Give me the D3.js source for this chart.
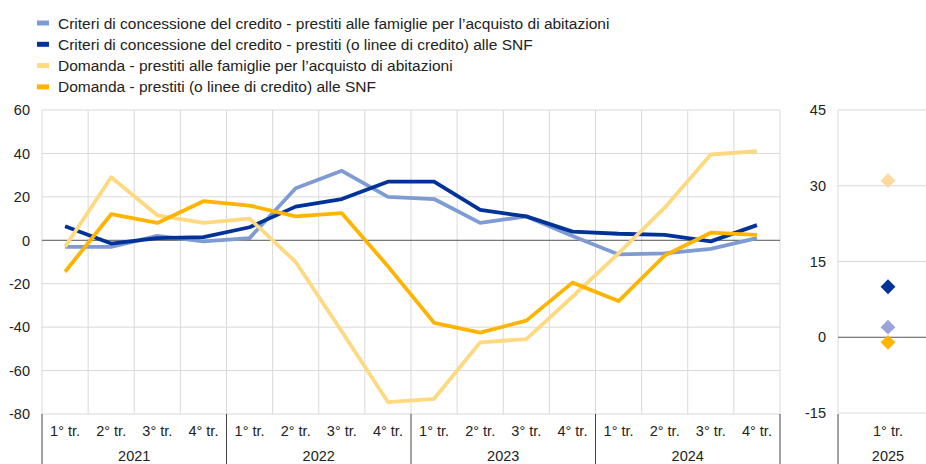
<!DOCTYPE html>
<html>
<head>
<meta charset="utf-8">
<script src="https://cdn.jsdelivr.net/npm/d3@7"></script>
<style>
  body { margin: 0; background: #fff; }
  svg { display: block; font-family: Arial, "Liberation Sans", sans-serif; }
</style>
</head>
<body>
<svg id="chart" width="926" height="464"></svg>
<script>
// data
var years = ['2021', '2022', '2023', '2024']
var quarterLabels = ['1° tr.', '2° tr.', '3° tr.', '4° tr.']
var seriesNames = [
  'Criteri di concessione del credito - prestiti alle famiglie per l\u2019acquisto di abitazioni',
  'Criteri di concessione del credito - prestiti (o linee di credito) alle SNF',
  'Domanda - prestiti alle famiglie per l\u2019acquisto di abitazioni',
  'Domanda - prestiti (o linee di credito) alle SNF'
]
var criteriFamiglie = [-3, -3, 2, -0.5, 1, 24, 32, 20, 19, 8, 11, 2, -6.5, -6, -4, 1]
var criteriSnf = [6.5, -1.5, 1, 1.5, 6, 15.5, 19, 27, 27, 14, 11, 4, 3, 2.5, -0.5, 7]
var domandaFamiglie = [-3, 29, 11.5, 8, 10, -10, -42, -74.5, -73, -47, -45.5, -26, -6, 15, 39.5, 41]
var domandaSnf = [-14.5, 12, 8, 18, 16, 11, 12.5, -12, -38, -42.5, -37, -19.5, -28, -7, 3.5, 2.5]
// expectations for next quarter
var nextLabel = '1° tr.'
var nextYear = '2025'
var nextValues = [2, 10, 31, -1]

var yTicks = [60, 40, 20, 0, -20, -40, -60, -80]
var y2Ticks = [45, 30, 15, 0, -15]

// styles
var lineColors = ['#7f9bd3', '#003299', '#ffd980', '#ffb400']
var dotColors = ['#99a4d8', '#003299', '#fdd9a2', '#ffb400']
var gridColor = '#d9d9d9'
var textColor = '#222'

var svg = d3.select('#chart')

var periods = []
years.forEach(function (y) {
  quarterLabels.forEach(function (q) { periods.push(y + ' ' + q) })
})

var x = d3.scaleBand().domain(periods).range([42, 780])
var y = d3.scaleLinear().domain([-80, 60]).range([414, 110])
var x2 = d3.scaleBand().domain([nextYear + ' ' + nextLabel]).range([838, 938])
var y2 = d3.scaleLinear().domain([-15, 45]).range([413, 110])

//
// left panel grid
//
var grid = svg.append('g')
grid.selectAll('line.h')
  .data(yTicks.filter(function (d) { return d !== 0 }))
  .enter().append('line')
  .attr('x1', 42).attr('x2', 780)
  .attr('y1', function (d) { return y(d) }).attr('y2', function (d) { return y(d) })
  .attr('stroke', gridColor)
var edges = periods.map(function (p) { return x(p) }).concat([780])
grid.selectAll('line.v')
  .data(edges)
  .enter().append('line')
  .attr('x1', function (d) { return d }).attr('x2', function (d) { return d })
  .attr('y1', y(60)).attr('y2', y(-80))
  .attr('stroke', gridColor)

svg.append('line')
  .attr('x1', 42).attr('x2', 780)
  .attr('y1', y(0)).attr('y2', y(0))
  .attr('stroke', '#555')

// y labels
svg.append('g').selectAll('text')
  .data(yTicks)
  .enter().append('text')
  .attr('x', 30)
  .attr('y', function (d) { return y(d) })
  .attr('dy', '0.36em')
  .attr('text-anchor', 'end')
  .attr('font-size', 14.5)
  .attr('fill', textColor)
  .text(function (d) { return d })

// x labels
svg.append('g').selectAll('text')
  .data(periods)
  .enter().append('text')
  .attr('x', function (d) { return x(d) + x.bandwidth() / 2 })
  .attr('y', 436)
  .attr('text-anchor', 'middle')
  .attr('font-size', 14.5)
  .attr('fill', textColor)
  .text(function (d) { return d.split(' ').slice(1).join(' ') })

svg.append('g').selectAll('text')
  .data(years)
  .enter().append('text')
  .attr('x', function (d) { return x(d + ' ' + quarterLabels[0]) + x.bandwidth() * 2 })
  .attr('y', 461)
  .attr('text-anchor', 'middle')
  .attr('font-size', 14.5)
  .attr('fill', textColor)
  .text(function (d) { return d })

// year separators
var seps = years.map(function (d) { return x(d + ' ' + quarterLabels[0]) }).concat([780, 838])
svg.append('g').selectAll('line')
  .data(seps)
  .enter().append('line')
  .attr('x1', function (d) { return d }).attr('x2', function (d) { return d })
  .attr('y1', y(-80)).attr('y2', 464)
  .attr('stroke', '#444')

//
// lines
//
var line = d3.line()
  .x(function (d, i) { return x(periods[i]) + x.bandwidth() / 2 })
  .y(function (d) { return y(d) })

var allSeries = [criteriFamiglie, criteriSnf, domandaFamiglie, domandaSnf]
svg.append('g').selectAll('path')
  .data(allSeries)
  .enter().append('path')
  .attr('d', line)
  .attr('fill', 'none')
  .attr('stroke', function (d, i) { return lineColors[i] })
  .attr('stroke-width', 3.8)
  .attr('stroke-linejoin', 'round')

//
// right panel
//
var g2 = svg.append('g')
g2.selectAll('line.h')
  .data(y2Ticks.filter(function (d) { return d !== 0 }))
  .enter().append('line')
  .attr('x1', 838).attr('x2', 938)
  .attr('y1', function (d) { return y2(d) }).attr('y2', function (d) { return y2(d) })
  .attr('stroke', gridColor)
g2.append('line')
  .attr('x1', 838).attr('x2', 838)
  .attr('y1', y2(45)).attr('y2', y2(-15))
  .attr('stroke', gridColor)
g2.append('line')
  .attr('x1', 838).attr('x2', 938)
  .attr('y1', y2(0)).attr('y2', y2(0))
  .attr('stroke', '#555')

g2.selectAll('text.tick')
  .data(y2Ticks)
  .enter().append('text')
  .attr('x', 826)
  .attr('y', function (d) { return y2(d) })
  .attr('dy', '0.36em')
  .attr('text-anchor', 'end')
  .attr('font-size', 14.5)
  .attr('fill', textColor)
  .text(function (d) { return d })

var cx2 = x2(nextYear + ' ' + nextLabel) + x2.bandwidth() / 2
g2.append('text')
  .attr('x', cx2).attr('y', 436)
  .attr('text-anchor', 'middle').attr('font-size', 14.5).attr('fill', textColor)
  .text(nextLabel)
g2.append('text')
  .attr('x', cx2).attr('y', 461)
  .attr('text-anchor', 'middle').attr('font-size', 14.5).attr('fill', textColor)
  .text(nextYear)

var diamond = d3.symbol().type(d3.symbolSquare).size(110)
// draw in order so orange sits on top like the reference
g2.selectAll('path.dot')
  .data(nextValues)
  .enter().append('path')
  .attr('d', diamond)
  .attr('transform', function (d) { return 'translate(' + cx2 + ',' + y2(d) + ') rotate(45)' })
  .attr('fill', function (d, i) { return dotColors[i] })

//
// legend
//
var legend = svg.append('g').selectAll('g')
  .data(seriesNames)
  .enter().append('g')
  .attr('transform', function (d, i) { return 'translate(0,' + (23 + i * 21.3) + ')' })
legend.append('rect')
  .attr('x', 37).attr('y', -2.5).attr('width', 12).attr('height', 5)
  .attr('fill', function (d, i) { return lineColors[i] })
legend.append('text')
  .attr('x', 58).attr('y', 0).attr('dy', '0.36em')
  .attr('font-size', 15.5)
  .attr('fill', textColor)
  .text(function (d) { return d })
</script>
</body>
</html>
